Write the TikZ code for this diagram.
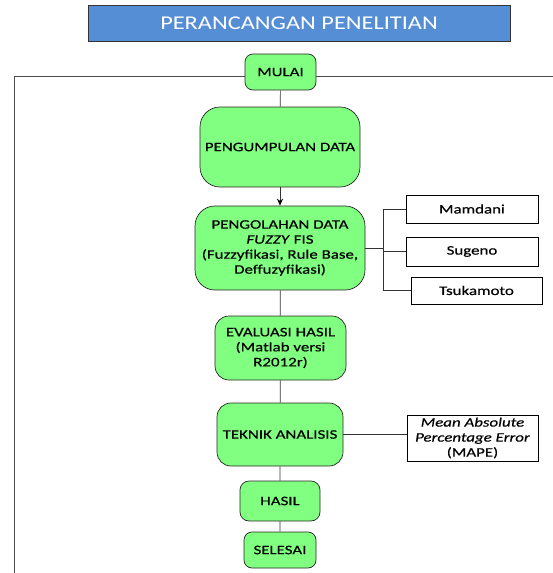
\documentclass[tikz,border=0pt]{standalone}
\usepackage{fontspec}
\setmainfont[FakeStretch=1.25]{Carlito}
\newfontfamily\hurufkotak[FakeStretch=1.3,FakeBold=0.4]{Carlito}
\usetikzlibrary{arrows.meta}
\definecolor{judulbiru}{HTML}{558ED5}
\definecolor{hijau}{HTML}{80FF80}
\tikzset{
	tahap/.style={draw=black!85,fill=hijau,line width=0.7pt,inner sep=0pt,align=center,font=\hurufkotak\fontsize{13}{15}\selectfont},
	metode/.style={draw=black,fill=white,line width=0.7pt,inner sep=0pt,align=center,font=\hurufkotak\fontsize{13}{15}\selectfont},
	garis/.style={draw=black!80,line width=0.7pt},
}
\begin{document}
\begin{tikzpicture}[x=1pt,y=-1pt]
	\useasboundingbox (0,0) rectangle (553,573);
	\draw[black!70,line width=0.8pt] (14,573) -- (14,76) -- (553,76); % bingkai
	\node[draw=black!80,fill=judulbiru,text=white,line width=0.7pt,minimum width=422pt,minimum height=36pt,inner sep=0pt,font=\fontsize{19.5}{23}\selectfont] (judul) at (299,23) {PERANCANGAN PENELITIAN};
	% alur utama
	\node[tahap,rounded corners=8pt,minimum width=71pt,minimum height=36pt] (mulai) at (280.5,72) {MULAI};
	\node[tahap,rounded corners=20pt,minimum width=160pt,minimum height=80pt] (kumpul) at (280,147) {PENGUMPULAN DATA};
	\node[tahap,rounded corners=20pt,minimum width=170pt,minimum height=84pt] (olah) at (280,248) {PENGOLAHAN DATA\\\textit{FUZZY} FIS\\(Fuzzyfikasi, Rule Base,\\Deffuzyfikasi)};
	\node[tahap,rounded corners=14pt,minimum width=131pt,minimum height=64pt] (evaluasi) at (280.5,348) {EVALUASI HASIL\\(Matlab versi\\R2012r)};
	\node[tahap,rounded corners=14pt,minimum width=126pt,minimum height=63pt] (teknik) at (280,434.5) {TEKNIK ANALISIS};
	\node[tahap,rounded corners=9pt,minimum width=80pt,minimum height=40pt] (hasil) at (280,501) {HASIL};
	\node[tahap,rounded corners=8pt,minimum width=72pt,minimum height=36pt] (selesai) at (280,550) {SELESAI};
	% metode fis
	\node[metode,minimum width=132pt,minimum height=28pt] (mamdani) at (472,209) {Mamdani};
	\node[metode,minimum width=132pt,minimum height=29pt] (sugeno) at (472,251.5) {Sugeno};
	\node[metode,minimum width=131pt,minimum height=27pt] (tsukamoto) at (476.5,290.5) {Tsukamoto};
	\node[metode,minimum width=131pt,minimum height=46pt] (mape) at (472.5,438) {\textit{Mean Absolute}\\\textit{Percentage Error}\\(MAPE)};
	\coordinate (cabang) at (383,248);
	% penghubung
	\draw[garis] (mulai) -- (kumpul);
	\draw[garis,-{Stealth[length=7pt,width=6pt,black]}] (kumpul) -- (olah);
	\draw[garis] (olah) -- (evaluasi) (evaluasi) -- (teknik) (teknik) -- (hasil) (hasil) -- (selesai);
	\draw[garis] (olah.east) -- (cabang);
	\draw[garis] (mamdani.west) -| (cabang) (sugeno.west) -| (cabang) (tsukamoto.west) -| (cabang);
	\draw[garis] (teknik.east) -- (teknik.east -| mape.west); % ke mape
\end{tikzpicture}
\end{document}
